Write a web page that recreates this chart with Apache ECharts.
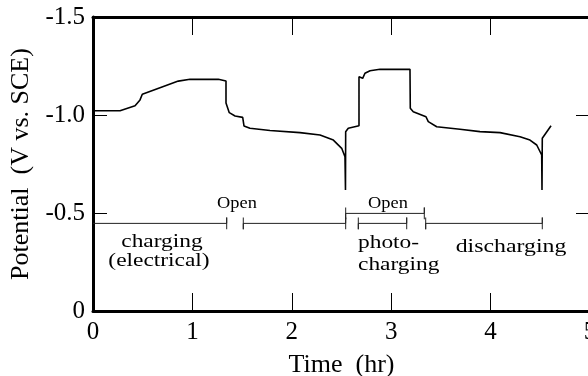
<!DOCTYPE html>
<html>
<head>
<meta charset="utf-8">
<script src="https://cdn.jsdelivr.net/npm/echarts@6/dist/echarts.min.js"></script>
<style>html,body{margin:0;padding:0;background:#fff}#c{width:588px;height:376px}</style>
</head>
<body>
<div id="c"></div>
<script>
// Potential trace (time in hr, potential in V vs. SCE)
const timeHr = [0, 0.272, 0.423, 0.473, 0.496, 0.674, 0.858, 0.976, 1.261, 1.338, 1.338, 1.371, 1.429, 1.506, 1.519, 1.579, 1.781, 2.082, 2.284, 2.418, 2.502, 2.535, 2.540, 2.542, 2.568, 2.676, 2.676, 2.696, 2.713, 2.736, 2.787, 2.887, 3.189, 3.192, 3.222, 3.350, 3.373, 3.458, 3.692, 3.893, 4.095, 4.296, 4.396, 4.464, 4.514, 4.517, 4.520, 4.608];
const potentialV = [-1.022, -1.022, -1.047, -1.077, -1.106, -1.139, -1.173, -1.182, -1.182, -1.173, -1.061, -1.012, -0.995, -0.988, -0.944, -0.932, -0.921, -0.910, -0.898, -0.872, -0.830, -0.787, -0.617, -0.915, -0.932, -0.945, -1.195, -1.204, -1.187, -1.213, -1.226, -1.233, -1.233, -1.034, -1.017, -0.991, -0.966, -0.940, -0.927, -0.915, -0.910, -0.889, -0.872, -0.847, -0.796, -0.617, -0.881, -0.945];

// Period bars (time in hr)
const periodStart = [0, 1.512, 2.669, 3.347];
const periodEnd = [1.345, 2.542, 3.156, 4.520];
const periodLevel = -0.447;
const openStart = [2.542];
const openEnd = [3.333];
const openLevel = -0.498;
const capHalf = 0.03;

const xTicks = [0, 1, 2, 3, 4, 5];
const yTicks = [-1.5, -1.0, -0.5, 0];

const font = '"Liberation Serif", "Times New Roman", serif';
const chart = echarts.init(document.getElementById('c'), null, {renderer: 'canvas'});

function barPath(x1, x2, y, capStart) {
  const pts = [];
  if (capStart) { pts.push([x1, y - capHalf], [x1, y + capHalf]); }
  pts.push([x1, y], [x2, y], [x2, y - capHalf], [x2, y + capHalf]);
  return pts;
}
const barSeries = [];
periodStart.forEach((s, i) => {
  barSeries.push({type: 'line', data: barPath(s, periodEnd[i], periodLevel, s > 0), showSymbol: false, silent: true,
    lineStyle: {color: '#222', width: 1}, animation: false, clip: false});
});
openStart.forEach((s, i) => {
  barSeries.push({type: 'line', data: barPath(s, openEnd[i], openLevel, true), showSymbol: false, silent: true,
    lineStyle: {color: '#222', width: 1}, animation: false, clip: false});
});

const axisCommon = {
  axisLine: {show: true, onZero: false, lineStyle: {color: '#000', width: 3}},
  splitLine: {show: false}
};

chart.setOption({
  animation: false,
  grid: {left: 93, top: 17, width: 497, height: 294, containLabel: false, outerBoundsMode: 'none'},
  xAxis: [
    Object.assign({type: 'value', position: 'bottom', min: xTicks[0], max: xTicks[xTicks.length - 1], interval: 1,
      axisTick: {show: true, inside: true, length: 18, lineStyle: {color: '#000', width: 1}},
      axisLabel: {color: '#000', fontFamily: font, fontSize: 25, margin: 9},
      name: 'Time  (hr)', nameLocation: 'middle', nameGap: 41,
      nameTextStyle: {color: '#000', fontFamily: font, fontSize: 26}}, axisCommon),
    Object.assign({type: 'value', position: 'top', min: xTicks[0], max: xTicks[xTicks.length - 1], interval: 1,
      axisTick: {show: true, inside: true, length: 18, lineStyle: {color: '#000', width: 1}},
      axisLabel: {show: false}}, axisCommon)
  ],
  yAxis: [
    Object.assign({type: 'value', position: 'left', min: yTicks[0], max: yTicks[yTicks.length - 1], interval: 0.5, inverse: true,
      axisTick: {show: true, inside: true, length: 14, lineStyle: {color: '#000', width: 1}},
      axisLabel: {color: '#000', fontFamily: font, fontSize: 25, margin: 8,
        formatter: v => (v === 0 ? '0' : v.toFixed(1))},
      name: 'Potential  (V vs. SCE)', nameLocation: 'middle', nameGap: 53, nameRotate: 90,
      nameTextStyle: {color: '#000', fontFamily: font, fontSize: 26}}, axisCommon),
    Object.assign({type: 'value', position: 'right', min: yTicks[0], max: yTicks[yTicks.length - 1], interval: 0.5, inverse: true,
      axisTick: {show: true, inside: true, length: 14, lineStyle: {color: '#000', width: 1}},
      axisLabel: {show: false}}, axisCommon)
  ],
  series: [
    {type: 'line', data: timeHr.map((t, i) => [t, potentialV[i]]), showSymbol: false, silent: true,
      lineStyle: {color: '#000', width: 1.6}, animation: false}
  ].concat(barSeries),
  graphic: [
    {type: 'text', x: 162, y: 242, scaleX: 1.2, style: {text: 'charging', font: '19.5px "Liberation Serif"', fill: '#000', align: 'center', verticalAlign: 'middle'}},
    {type: 'text', x: 159, y: 261, scaleX: 1.2, style: {text: '(electrical)', font: '19.5px "Liberation Serif"', fill: '#000', align: 'center', verticalAlign: 'middle'}},
    {type: 'text', x: 237, y: 204, scaleX: 1.08, style: {text: 'Open', font: '17px "Liberation Serif"', fill: '#000', align: 'center', verticalAlign: 'middle'}},
    {type: 'text', x: 388, y: 204, scaleX: 1.08, style: {text: 'Open', font: '17px "Liberation Serif"', fill: '#000', align: 'center', verticalAlign: 'middle'}},
    {type: 'text', x: 358, y: 243, scaleX: 1.2, style: {text: 'photo-', font: '19.5px "Liberation Serif"', fill: '#000', align: 'left', verticalAlign: 'middle'}},
    {type: 'text', x: 358, y: 265, scaleX: 1.2, style: {text: 'charging', font: '19.5px "Liberation Serif"', fill: '#000', align: 'left', verticalAlign: 'middle'}},
    {type: 'text', x: 511, y: 247, scaleX: 1.22, style: {text: 'discharging', font: '19.5px "Liberation Serif"', fill: '#000', align: 'center', verticalAlign: 'middle'}}
  ]
});
</script>
</body>
</html>
